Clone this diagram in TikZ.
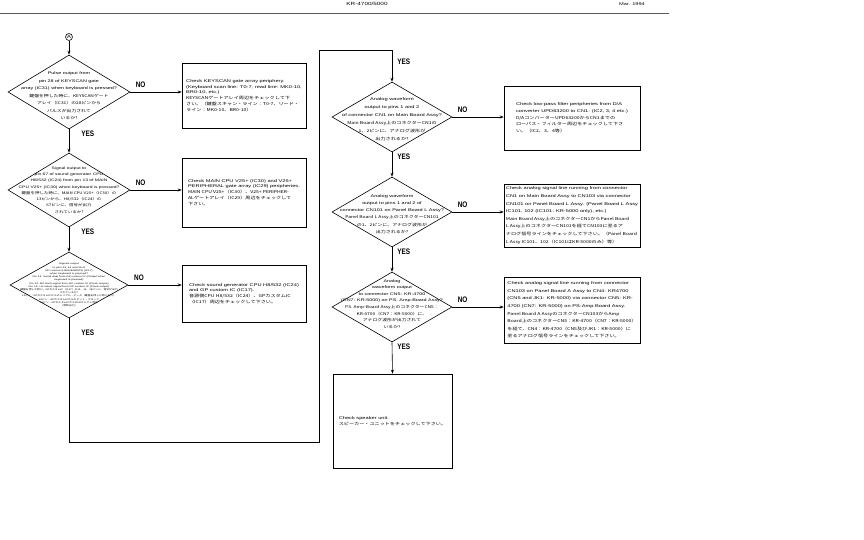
\documentclass[tikz,border=0pt]{standalone}
\usepackage{fontspec}
\setmainfont{Liberation Sans}[FakeStretch=1.42]
\newfontfamily\jp{Noto Sans CJK JP}[FakeStretch=1.28]
\newfontfamily\lblfont{Liberation Sans}[FakeStretch=0.8]
\usetikzlibrary{shapes.geometric,arrows.meta}

\begin{document}
\begin{tikzpicture}[x=1pt,y=-1pt,line width=0.6pt,
    decision/.style={draw,diamond,minimum width=120,minimum height=70,inner sep=0},
    checkbox/.style={draw,rectangle,inner sep=1pt,align=left},
    dtext/.style={align=center,inner sep=0},
    yesno/.style={font=\lblfont\bfseries\fontsize{8}{8}\selectfont,inner sep=1pt},
    flow/.style={-{Stealth[length=4pt,width=3pt]}}]

    \useasboundingbox (0,0) rectangle (864,540);

    % Header
    \node[font=\fontsize{4.5}{5}\selectfont] (title) at (367,4) {KR-4700/5000};
    \node[font=\fontsize{4}{5}\selectfont] (date) at (632,4) {Mar. 1994};
    \draw[gray!70!black,line width=0.7pt] (0,13) -- (669,13);

    % Start marker
    \node[draw,circle,inner sep=0.6pt,font=\fontsize{4.5}{5}\selectfont] (A) at (69,37) {A};

    % Left column: decisions
    \node[decision,minimum width=122,minimum height=74] (d1) at (69,92) {};
    \node[dtext,font=\fontsize{3.8}{7.5}\selectfont] (d1txt) at (69,96) {Pulse output from\\
        pin 28 of KEYSCAN gate\\
        array (IC31) when keyboard is pressed?\\
        {\jp 鍵盤を押した時に、KEYSCANゲート}\\
        {\jp アレイ（IC31）の28ピンから}\\
        {\jp パルスが出力されて}\\
        {\jp いるか?}};

    \node[decision,minimum width=122,minimum height=74] (d2) at (69,190) {};
    \node[dtext,font=\fontsize{3.5}{6.3}\selectfont] (d2txt) at (69,190) {Signal output to\\
        pin 67 of sound generator CPU\\
        H8/532 (IC24) from pin 13 of MAIN\\
        CPU V25+ (IC30) when keyboard is pressed?\\
        {\jp 鍵盤を押した時に、MAIN CPU V25+（IC30）の}\\
        {\jp 13ピンから、H8/532（IC24）の}\\
        {\jp 67ピンに、信号が出力}\\
        {\jp されているか?}};

    \node[decision,minimum width=118,minimum height=66] (d3) at (69,285) {};
    \node[dtext,font=\fontsize{2.2}{3.2}\selectfont] (d3txt) at (69,285) {Signals output\\
        to pins 13, 14 and 15 of\\
        GP custom (HG62E06R03) (IC17)\\
        when keyboard is pressed?\\
        Pin 13: Serial data from GP custom IC (Output when\\
        keyboard is pressed)\\
        Pin 14: Bit clock signal from GP custom IC (Clock output)\\
        Pin 15: LR select signal from GP custom IC (Clock output)\\
        {\jp 鍵盤を押した時に、GPカスタムIC（IC17）の13、14、15ピンに、信号が出力}\\
        {\jp されているか?}\\
        {\jp 13ピン：GPカスタムICからのシリアル・データ（鍵盤を押した時に出力）}\\
        {\jp 14ピン：GPカスタムICからのビット・クロック}\\
        {\jp 15ピン：GPカスタムICからのLRセレクト信号}\\
        {\jp （常時出力）}};

    % Left column: checks
    \node[checkbox,minimum width=124,minimum height=65,font=\fontsize{4}{5.8}\selectfont] (b1) at (244,95.5) {Check KEYSCAN gate array periphery.\\
        (Keyboard scan line: T0-7, read line: MK0-10,\\
        BR0-10, etc.)\\
        {\jp KEYSCANゲートアレイ周辺をチェックして下}\\
        {\jp さい。（鍵盤スキャン・ライン：T0-7、リード・}\\
        {\jp ライン：MK0-10、BR0-10）}};
    \node[checkbox,minimum width=124,minimum height=69,font=\fontsize{4}{5.8}\selectfont] (b2) at (244,192.5) {Check MAIN CPU V25+ (IC30) and V25+\\
        PERIPHERAL gate array (IC29) peripheries.\\
        {\jp MAIN CPU V25+（IC30）、V25+ PERIPHER-}\\
        {\jp ALゲートアレイ（IC29）周辺をチェックして}\\
        {\jp 下さい。}};
    \node[checkbox,minimum width=124,minimum height=57,font=\fontsize{4}{5.8}\selectfont] (b3) at (244,293.5) {Check sound generator CPU H8/532 (IC24)\\
        and GP custom IC (IC17).\\
        {\jp 音源側CPU H8/532（IC24）、GPカスタムIC}\\
        {\jp （IC17）周辺をチェックして下さい。}};

    % Right column: decisions
    \node[decision] (d4) at (392,117) {};
    \node[dtext,font=\fontsize{4}{8}\selectfont] (d4txt) at (392,119) {Analog waveform\\
        output to pins 1 and 2\\
        of connector CN1 on Main Board Assy?\\
        {\jp Main Board Assy上のコネクターCN1の}\\
        {\jp 1、2ピンに、アナログ波形が}\\
        {\jp 出力されるか?}};

    \node[decision] (d5) at (392,212) {};
    \node[dtext,font=\fontsize{3.9}{7.2}\selectfont] (d5txt) at (392,214) {Analog waveform\\
        output to pins 1 and 2 of\\
        connector CN101 on Panel Board L Assy?\\
        {\jp Panel Board L Assy上のコネクターCN101}\\
        {\jp の1、2ピンに、アナログ波形が}\\
        {\jp 出力されるか?}};

    \node[decision] (d6) at (392,307) {};
    \node[dtext,font=\fontsize{3.8}{6.6}\selectfont] (d6txt) at (392,304) {Analog\\
        waveform output\\
        to connector CN5: KR-4700\\
        (CN7: KR-5000) on PS. Amp-Board Assy?\\
        {\jp PS. Amp-Board Assy上のコネクターCN5：}\\
        {\jp KR-4700（CN7：KR-5000）に、}\\
        {\jp アナログ波形が出力されて}\\
        {\jp いるか?}};

    % Right column: checks
    \node[checkbox,minimum width=136,minimum height=64,font=\fontsize{4}{6.7}\selectfont] (b4) at (572,118) {Check low-pass filter peripheries from D/A\\
        converter UPD63200 to CN1. (IC2, 3, 4 etc.)\\
        {\jp D/AコンバーターUPD63200からCN1までの}\\
        {\jp ローパス・フィルター周辺をチェックして下さ}\\
        {\jp い。（IC2、3、4等）}};
    \node[checkbox,minimum width=136,minimum height=63,font=\fontsize{4}{7.6}\selectfont] (b5) at (572,215.5) {Check analog signal line running from connector\\
        CN1 on Main Board Assy to CN103 via connector\\
        CN101 on Panel Board L Assy. (Panel Board L Assy\\
        IC101, 102 (IC101: KR-5000 only), etc.)\\
        {\jp Main Board Assy上のコネクターCN1からPanel Board}\\
        {\jp L Assy上のコネクターCN101を経てCN103に至るア}\\
        {\jp ナログ信号ラインをチェックして下さい。（Panel Board}\\
        {\jp L Assy IC101、102（IC101はKR-5000のみ）等）}};
    \node[checkbox,minimum width=136,minimum height=66,font=\fontsize{4}{7.6}\selectfont] (b6) at (572,310) {Check analog signal line running from connector\\
        CN103 on Panel Board A Assy to CN4: KR4700\\
        (CN5 and JK1: KR-5000) via connector CN5: KR-\\
        4700 (CN7: KR-5000) on PS-Amp Board Assy.\\
        {\jp Panel Board A AssyのコネクターCN103からAmp}\\
        {\jp Board上のコネクターCN5：KR-4700（CN7：KR-5000）}\\
        {\jp を経て、CN4：KR-4700（CN5及びJK1：KR-5000）に}\\
        {\jp 至るアナログ信号ラインをチェックして下さい。}};
    \node[checkbox,minimum width=119,minimum height=94,font=\fontsize{4}{6.5}\selectfont] (b7) at (392.5,421) {Check speaker unit.\\
        {\jp スピーカー・ユニットをチェックして下さい。}};

    % Loop from left column to right column
    \coordinate (loopa) at (319,442);
    \coordinate (looptop) at (392,50);

    % Flow lines
    \draw[flow] (A) -- (d1.north);
    \draw[flow] (d1.south) -- node[yesno,at start,anchor=north west,xshift=11pt] {YES} (d2.north);
    \draw[flow] (d2.south) -- node[yesno,at start,anchor=north west,xshift=11pt] {YES} (d3.north);
    \draw (d3.south) |- node[yesno,pos=0.04,anchor=north west,xshift=11pt] {YES} (loopa) |- (looptop);
    \draw[flow] (looptop) -- node[yesno,at start,anchor=north west,xshift=4pt,yshift=-8pt] {YES} (d4.north);
    \draw[flow] (d4.south) -- node[yesno,at start,anchor=north west,xshift=4pt] {YES} (d5.north);
    \draw[flow] (d5.south) -- node[yesno,at start,anchor=north west,xshift=4pt] {YES} (d6.north);
    \draw[flow] (d6.south) -- node[yesno,at start,anchor=north west,xshift=4pt] {YES} (b7.north);

    \draw[flow] (d1.east) -- node[yesno,pos=0.2,above=3pt] {NO} (b1.west |- d1.east);
    \draw[flow] (d2.east) -- node[yesno,pos=0.2,above=3pt] {NO} (b2.west |- d2.east);
    \draw[flow] (d3.east) -- node[yesno,pos=0.2,above=3pt] {NO} (b3.west |- d3.east);
    \draw[flow] (d4.east) -- node[yesno,pos=0.2,above=3pt] {NO} (b4.west |- d4.east);
    \draw[flow] (d5.east) -- node[yesno,pos=0.2,above=3pt] {NO} (b5.west |- d5.east);
    \draw[flow] (d6.east) -- node[yesno,pos=0.2,above=3pt] {NO} (b6.west |- d6.east);

\end{tikzpicture}
\end{document}
